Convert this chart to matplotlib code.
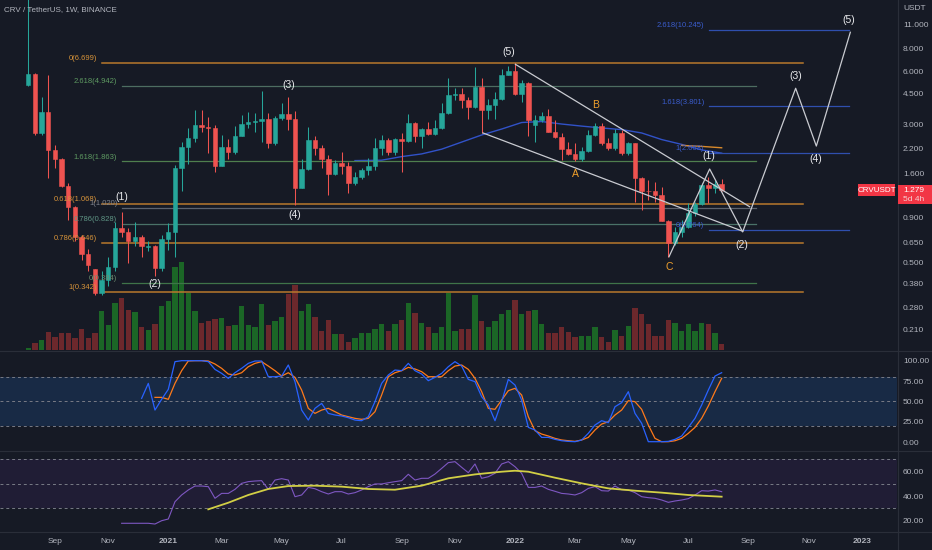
import numpy as np
import pandas as pd
import matplotlib
matplotlib.use('Agg')
import matplotlib.pyplot as plt
import matplotlib.dates as mdates
from matplotlib.ticker import NullLocator
from matplotlib.lines import Line2D
from matplotlib.patches import Rectangle

plt.rcParams['font.family'] = ['Liberation Sans', 'DejaVu Sans']

# ---------------- data (weekly CRV/USDT) ----------------
first_week = '2020-08-10'

opens = [4.99, 5.78, 2.70, 3.54, 2.16, 1.91, 1.35, 1.03, 0.70, 0.56,
         0.459, 0.337, 0.40, 0.471, 0.78, 0.75, 0.66, 0.70, 0.61, 0.62,
         0.47, 0.68, 0.75, 1.70, 2.25, 2.51, 2.98, 2.92, 2.86, 1.75,
         2.25, 2.10, 2.59, 3.02, 3.11, 3.15, 3.22, 2.37, 3.28, 3.44,
         3.23, 1.31, 1.68, 2.45, 2.21, 1.91, 1.59, 1.83, 1.75, 1.41,
         1.53, 1.66, 1.75, 2.22, 2.44, 2.09, 2.48, 2.43, 3.05, 2.57,
         2.83, 2.67, 2.87, 3.50, 4.40, 4.47, 4.10, 3.76, 4.89, 3.62,
         3.86, 4.17, 5.71, 6.03, 4.44, 5.13, 3.00, 3.18, 3.36, 2.74,
         2.55, 2.18, 2.05, 1.91, 2.14, 2.63, 2.94, 2.37, 2.21, 2.69,
         2.07, 2.35, 1.50, 1.27, 1.26, 1.20, 0.864, 0.648, 0.75, 0.80,
         0.95, 1.07, 1.37, 1.31, 1.39]
highs = [40.0, 5.85, 4.31, 5.70, 2.30, 1.95, 1.40, 1.05, 0.72, 0.60,
         0.46, 0.45, 0.54, 0.85, 0.97, 0.79, 0.85, 0.72, 0.66, 0.63,
         0.72, 0.835, 1.78, 2.40, 2.86, 3.62, 3.62, 3.29, 2.98, 2.63,
         2.50, 2.96, 3.39, 3.54, 3.50, 4.65, 3.47, 3.35, 3.95, 4.28,
         3.57, 1.93, 2.92, 2.57, 2.30, 2.01, 1.89, 2.11, 1.85, 1.63,
         1.71, 1.94, 2.51, 2.63, 2.51, 2.53, 2.69, 3.42, 3.11, 2.88,
         3.11, 3.18, 3.95, 5.51, 4.80, 4.83, 4.28, 6.35, 5.46, 4.17,
         4.56, 6.16, 6.38, 6.70, 5.34, 5.20, 3.40, 3.51, 3.65, 3.18,
         2.69, 2.39, 2.35, 2.25, 2.80, 3.05, 3.05, 2.51, 2.83, 2.81,
         2.40, 2.37, 1.52, 1.46, 1.42, 1.33, 0.87, 0.80, 0.87, 1.08,
         1.10, 1.41, 1.53, 1.46, 1.48]
lows = [4.95, 2.62, 2.62, 1.50, 1.71, 1.34, 0.87, 0.66, 0.52, 0.45,
        0.33, 0.33, 0.37, 0.45, 0.70, 0.50, 0.62, 0.54, 0.58, 0.42,
        0.45, 0.59, 0.54, 1.26, 1.81, 2.40, 2.74, 2.07, 1.63, 1.75,
        1.91, 2.05, 2.59, 2.86, 2.74, 2.39, 2.21, 2.30, 3.20, 2.80,
        1.06, 1.31, 1.66, 2.01, 1.71, 1.20, 1.55, 1.59, 1.23, 1.37,
        1.49, 1.55, 1.66, 2.02, 2.02, 2.03, 1.63, 2.39, 2.39, 2.21,
        2.63, 2.63, 2.84, 3.45, 4.12, 3.70, 3.24, 3.72, 2.69, 3.24,
        3.24, 4.12, 5.68, 4.38, 4.03, 2.57, 2.38, 3.11, 2.72, 2.51,
        1.90, 2.02, 1.88, 1.88, 2.11, 2.59, 2.30, 2.16, 2.16, 2.02,
        2.02, 1.10, 0.99, 1.13, 1.10, 0.86, 0.537, 0.63, 0.70, 0.78,
        0.92, 1.06, 1.09, 1.23, 1.27]
closes = [5.78, 2.70, 3.54, 2.16, 1.91, 1.35, 1.03, 0.70, 0.56, 0.486,
          0.337, 0.40, 0.471, 0.78, 0.75, 0.66, 0.70, 0.62, 0.62, 0.47,
          0.68, 0.75, 1.70, 2.25, 2.51, 2.98, 2.92, 2.86, 1.75, 2.25,
          2.10, 2.59, 3.02, 3.11, 3.15, 3.22, 2.37, 3.28, 3.44, 3.23,
          1.31, 1.68, 2.45, 2.21, 1.91, 1.59, 1.83, 1.75, 1.41, 1.53,
          1.66, 1.75, 2.22, 2.44, 2.09, 2.48, 2.43, 3.05, 2.57, 2.83,
          2.67, 2.87, 3.50, 4.40, 4.47, 4.10, 3.76, 4.89, 3.62, 3.86,
          4.17, 5.71, 6.03, 4.44, 5.13, 3.18, 3.18, 3.36, 2.74, 2.55,
          2.18, 2.05, 1.91, 2.14, 2.63, 2.94, 2.37, 2.21, 2.69, 2.07,
          2.35, 1.50, 1.27, 1.26, 1.20, 0.864, 0.648, 0.75, 0.80, 0.95,
          1.07, 1.37, 1.31, 1.39, 1.279]
volumes = [2, 6.7, 10, 17.7, 13.3, 16.7, 16.7, 11.7, 21, 11.7,
           16.7, 38, 25, 46.7, 51.7, 39, 37.7, 22.3, 20, 26,
           43.3, 48.3, 82, 86.7, 55.7, 38.3, 26.7, 29, 30.7, 31.7,
           23.3, 25, 43.3, 25, 22.3, 45.7, 25, 28.3, 32.3, 55,
           64.3, 38.3, 45.7, 32.3, 18.3, 30, 15.7, 15.7, 7.7, 12.3,
           16.7, 16.7, 21, 25.7, 19, 25.7, 30, 46.7, 36.7, 26.7,
           22.3, 16.7, 22.3, 55.7, 19, 21, 21, 54.3, 29, 22.3,
           29, 35, 39, 49, 35, 38.3, 39, 25.7, 16.7, 16.7,
           22.3, 17.7, 13.3, 14, 14, 22.3, 13.3, 8.3, 20, 14,
           24, 41, 35.7, 25.7, 14, 14, 30, 26.7, 19, 25.7,
           18.3, 26.3, 25.7, 16.7, 5.7]

# moving averages on price (bar number, value)
ma50_bars = [50, 54, 57, 60, 63, 66, 69, 72, 75, 78, 81, 84, 87, 90, 93, 96, 99, 102, 105]
ma50_vals = [1.88, 1.89, 1.98, 2.05, 2.18, 2.39, 2.62, 2.83, 3.08, 3.12, 3.02, 2.94,
             2.87, 2.81, 2.69, 2.47, 2.32, 2.16, 2.07]
ma100_bars = [99, 102, 105]
ma100_vals = [2.29, 2.26, 2.22]

# Stoch RSI
stoch_k_start = 18
stoch_k = [53.7, 72.1, 39.3, 52.5, 64.8, 98.8, 100, 100, 100, 100,
           98.8, 89.3, 84.4, 78.3, 85.2, 90.6, 96.7, 99.6, 99.6, 80.3,
           80.3, 81.1, 94.7, 74.2, 39.3, 27.0, 41.4, 47.5, 35.2, 33.2,
           32.0, 29.9, 27.0, 26.2, 31.1, 49.6, 72.1, 82.4, 88.5, 87.7,
           96.7, 87.7, 83.6, 75.4, 79.5, 84.4, 92.6, 98.8, 93.4, 77.0,
           74.2, 55.7, 45.5, 26.2, 49.6, 77.0, 70.1, 51.6, 18.0, 14.8,
           5.7, 5.7, 3.3, 1.6, 0.8, 0.4, 2.5, 10.7, 20.9, 26.2,
           23.8, 43.4, 48.4, 61.9, 35.2, 23.0, 0.4, 0.4, 0.4, 0.8,
           3.3, 7.4, 18.0, 29.1, 45.5, 63.9, 81.1, 85.2]
stoch_d_start = 20
stoch_d = [54.9, 54.9, 52.5, 72.1, 87.7, 99.6, 100, 100, 99.6, 95.9,
           90.6, 83.6, 82.4, 85.2, 92.6, 96.7, 98.8, 93.4, 87.7, 81.1,
           85.2, 79.5, 63.9, 41.4, 35.2, 39.3, 41.4, 37.3, 33.2, 31.1,
           29.1, 27.9, 29.1, 37.3, 57.8, 80.3, 85.2, 87.7, 91.8, 89.8,
           86.5, 80.3, 80.3, 80.3, 87.7, 93.4, 94.7, 89.3, 78.3, 61.9,
           41.4, 40.2, 51.6, 63.1, 66.0, 57.8, 31.1, 13.9, 9.8, 7.4,
           4.5, 2.5, 1.6, 0.8, 2.5, 5.7, 14.8, 22.1, 25.0, 33.2,
           39.3, 50.8, 49.6, 40.2, 20.9, 4.5, 0.4, 0.4, 1.6, 4.5,
           10.7, 18.0, 29.1, 44.3, 61.9, 78.3]

# RSI and its moving average
rsi_start = 15
rsi_vals = [17.9, 17.9, 17.9, 17.9, 17.9, 17.3, 20.0, 21.4, 35.5, 41.0,
            45.1, 48.3, 48.3, 47.8, 38.3, 42.3, 42.3, 45.6, 50.5, 51.9,
            52.4, 52.7, 45.6, 53.2, 54.3, 53.2, 39.6, 41.0, 47.2, 46.1,
            43.7, 41.8, 43.7, 43.7, 41.8, 42.9, 45.1, 47.8, 50.0, 50.0,
            51.0, 51.9, 52.7, 57.9, 53.2, 54.6, 54.6, 58.1, 62.7, 67.4,
            68.2, 63.6, 59.2, 66.3, 54.6, 55.9, 58.7, 66.3, 68.2, 64.1,
            58.7, 47.2, 47.2, 48.3, 45.6, 44.0, 42.3, 41.8, 41.0, 42.9,
            46.4, 47.8, 44.5, 44.2, 48.3, 45.3, 45.1, 42.9, 39.6, 38.8,
            38.3, 36.9, 35.0, 36.1, 36.9, 38.0, 41.0, 44.5, 44.2, 45.1, 43.7]
rsi_ma_bars = [28, 31, 34, 37, 40, 44, 48, 52, 56, 60, 64, 68, 72, 74, 76, 80, 84, 88, 92, 96, 100, 105]
rsi_ma_vals = [29.3, 34.7, 41.0, 45.9, 48.3, 48.6, 47.8, 45.9, 45.3, 48.6, 54.6, 57.8,
               60.0, 60.8, 60.0, 55.1, 50.5, 46.4, 44.5, 42.9, 41.0, 39.6]

# Fibonacci drawings
fib_orange_labels = ['0(6.699)', '0.618(1.068)', '0.786(0.646)', '1(0.342)']
fib_orange_prices = [6.699, 1.068, 0.646, 0.342]
fib_orange_span = [12.0, 117.2]
fib_green_labels = ['2.618(4.942)', '1.618(1.863)', '1(1.020)', '0.786(0.828)', '0(0.384)']
fib_green_prices = [4.942, 1.863, 1.020, 0.828, 0.384]
fib_green_span = [15.05, 110.1]
fib_blue_labels = ['2.618(10.245)', '1.618(3.801)', '1(2.068)', '0(0.764)']
fib_blue_prices = [10.245, 3.801, 2.068, 0.764]
fib_blue_span = [103.1, 124.1]

# trend channel and projected wave path (bar number, price)
channel_upper_bars = [74.06, 109.2]
channel_upper_prices = [6.55, 1.034]
channel_lower_bars = [69.2, 108.15]
channel_lower_prices = [2.69, 0.753]
proj_bars = [97.1, 103.2, 108.15, 116.1, 119.2, 124.3]
proj_prices = [0.541, 1.686, 0.746, 4.80, 2.27, 9.92]

wave_labels = ['(1)', '(2)', '(3)', '(4)', '(5)', '(1)', '(2)', '(3)', '(4)', '(5)']
wave_bars = [15, 20, 40, 41, 73.03, 103, 108.05, 116.05, 119.1, 124.1]
wave_prices = [1.18, 0.378, 5.01, 0.93, 7.67, 2.00, 0.629, 5.65, 1.91, 11.68]
abc_labels = ['A', 'B', 'C']
abc_bars = [83.1, 86.1, 97.1]
abc_prices = [1.59, 3.86, 0.473]

price_ticks = [11, 8, 6, 4.5, 3, 2.2, 1.6, 0.9, 0.65, 0.5, 0.38, 0.28, 0.21]
stoch_ticks = [0, 25, 50, 75, 100]
rsi_ticks = [20, 40, 60]
tick_months = ['2020-09', '2020-11', '2021-01', '2021-03', '2021-05', '2021-07',
               '2021-09', '2021-11', '2022-01', '2022-03', '2022-05', '2022-07',
               '2022-09', '2022-11', '2023-01']
title = 'CRV / TetherUS, 1W, BINANCE'
symbol = 'CRVUSDT'
countdown = '5d 4h'

# ---------------- style ----------------
BG = '#161a25'
SEP = '#2a2e39'
TXT = '#b2b5be'
UP, DOWN = '#26a69a', '#ef5350'
VUP, VDOWN = '#1b6626', '#6c282c'
W, H = 932, 550

x0 = mdates.date2num(pd.Timestamp(first_week))


def wx(n):
    return x0 + (np.asarray(n, dtype=float) - 1) * 7.0


n_bars = len(closes)
xs = wx(np.arange(1, n_bars + 1))
o = np.array(opens); h = np.array(highs); l = np.array(lows); c = np.array(closes)
up = c >= o
ccol = np.where(up, UP, DOWN)
vcol = np.where(up, VUP, VDOWN)
XLIM = (float(wx(-3.245)), float(wx(131.3)))


def rect(a, b, cc, d):
    return [a / W, 1 - d / H, (cc - a) / W, (d - b) / H]


fig = plt.figure(figsize=(W / 100, H / 100), dpi=100, facecolor=BG)

# volume (behind price)
vax = fig.add_axes(rect(0, 0, 897, 350), zorder=0)
vax.set_facecolor(BG)
vax.bar(xs, volumes, width=5.8, color=vcol, linewidth=0)
vax.set_xlim(*XLIM)
vax.set_ylim(0, max(volumes) * 350 / 88)
vax.axis('off')

# price pane
ax = fig.add_axes(rect(0, 0, 897, 350), zorder=1)
ax.set_facecolor('none')
ax.set_yscale('log')
ax.set_xlim(*XLIM)
ax.set_ylim(0.1615, 15.07)
ax.vlines(xs, l, h, colors=ccol, linewidth=0.75, zorder=3)
ax.bar(xs, np.abs(c - o), bottom=np.minimum(o, c), width=4.6, color=ccol,
       edgecolor=ccol, linewidth=0.4, zorder=4)

ax.plot(wx(ma50_bars), ma50_vals, color='#3152c8', lw=1.0, zorder=2)
ax.plot(wx(ma100_bars), ma100_vals, color='#d98a2b', lw=1.0, zorder=2)

# fib drawings
for lab, p in zip(fib_orange_labels, fib_orange_prices):
    ax.plot(wx(fib_orange_span), [p, p], color='#b9792c', lw=1.1, zorder=2)
    ax.text(wx(fib_orange_span[0] - 0.7), p * 1.01, lab, color='#d6933a', fontsize=5.5,
            ha='right', va='bottom', zorder=5)
g_line = ['#4d6d61', '#4f7f4e', '#5d636e', '#4a7268', '#3f7449']
g_text = ['#5e9a62', '#5e9a62', '#80848e', '#5f9585', '#6b8a6e']
for lab, p, lc, tc in zip(fib_green_labels, fib_green_prices, g_line, g_text):
    ax.plot(wx(fib_green_span), [p, p], color=lc, lw=0.9, zorder=2)
    ax.text(wx(fib_green_span[0] - 0.7), p * 1.01, lab, color=tc, fontsize=5.5,
            ha='right', va='bottom', zorder=5)
for lab, p in zip(fib_blue_labels, fib_blue_prices):
    ax.plot(wx(fib_blue_span), [p, p], color='#2f4fae', lw=0.9, zorder=2)
    ax.text(wx(fib_blue_span[0] - 0.7), p * 1.01, lab, color='#3a5ccc', fontsize=5.5,
            ha='right', va='bottom', zorder=5)

WL = '#c9cbd1'
ax.plot(wx(channel_upper_bars), channel_upper_prices, color=WL, lw=0.9, zorder=5)
ax.plot(wx(channel_lower_bars), channel_lower_prices, color=WL, lw=0.9, zorder=5)
ax.plot(wx(proj_bars), proj_prices, color=WL, lw=0.9, zorder=5)

for lab, b, p in zip(wave_labels, wave_bars, wave_prices):
    ax.text(wx(b), p, lab, color='#e8e9ec', fontsize=7.5, ha='center', va='center', zorder=6)
for lab, b, p in zip(abc_labels, abc_bars, abc_prices):
    ax.text(wx(b), p, lab, color='#f0a02c', fontsize=7.5, ha='center', va='center', zorder=6)

# stoch RSI pane
sax = fig.add_axes(rect(0, 351, 897, 450))
sax.set_facecolor(BG)
sax.set_xlim(*XLIM)
sax.set_ylim(-9.8, 111.9)
sax.axhspan(20, 80, color='#182a45', lw=0, zorder=0)
for lv in (80, 50, 20):
    sax.axhline(lv, color='#787b86', lw=0.7, ls=(0, (3, 3)), zorder=1)
sax.plot(wx(np.arange(stoch_k_start, stoch_k_start + len(stoch_k))), stoch_k,
         color='#2962ff', lw=0.9, zorder=3)
sax.plot(wx(np.arange(stoch_d_start, stoch_d_start + len(stoch_d))), stoch_d,
         color='#ff7a1a', lw=0.9, zorder=2)

# RSI pane
rax = fig.add_axes(rect(0, 451, 897, 531))
rax.set_facecolor(BG)
rax.set_xlim(*XLIM)
rax.set_ylim(11.6, 76.9)
rax.axhspan(30, 70, color='#201d35', lw=0, zorder=0)
for lv in (70, 50, 30):
    rax.axhline(lv, color='#787b86', lw=0.7, ls=(0, (3, 3)), zorder=1)
rax.plot(wx(np.arange(rsi_start, rsi_start + len(rsi_vals))), rsi_vals,
         color='#7e57c2', lw=0.8, zorder=2)
rax.plot(wx(rsi_ma_bars), rsi_ma_vals, color='#d2cf45', lw=1.3, zorder=3)

# axes styling
for a in (ax, sax, rax):
    for s in a.spines.values():
        s.set_visible(False)
    a.yaxis.tick_right()
    a.tick_params(axis='y', length=0, pad=4.3, labelsize=6, labelcolor=TXT)
    a.tick_params(axis='x', length=0)
    a.yaxis.set_minor_locator(NullLocator())
    a.xaxis.set_minor_locator(NullLocator())

ax.set_yticks(price_ticks)
ax.set_yticklabels([f'{v:.3f}' for v in price_ticks])
ax.yaxis.set_minor_locator(NullLocator())
sax.set_yticks(stoch_ticks)
sax.set_yticklabels([f'{v:.2f}' for v in stoch_ticks])
rax.set_yticks(rsi_ticks)
rax.set_yticklabels([f'{v:.2f}' for v in rsi_ticks])

tick_pos, tick_lab, tick_year = [], [], []
for m in tick_months:
    d = pd.Timestamp(m + '-01')
    monday = d + pd.Timedelta(days=(7 - d.weekday()) % 7)
    tick_pos.append(mdates.date2num(monday))
    tick_lab.append(str(d.year) if d.month == 1 else d.strftime('%b'))
    tick_year.append(d.month == 1)
for a in (ax, sax):
    a.set_xticks(tick_pos)
    a.set_xticklabels([])
rax.set_xticks(tick_pos)
rax.set_xticklabels(tick_lab)
rax.tick_params(axis='x', labelsize=6, labelcolor=TXT, pad=5)
for t, is_year in zip(rax.get_xticklabels(), tick_year):
    if is_year:
        t.set_fontweight('bold')

# separators
for yy in (350.5, 450.5, 531.5):
    fig.add_artist(Line2D([0, 1], [1 - yy / H] * 2, transform=fig.transFigure, color=SEP, lw=0.8))
fig.add_artist(Line2D([897.5 / W] * 2, [0, 1], transform=fig.transFigure, color=SEP, lw=0.8))

fig.text(4 / W, 1 - 10 / H, title, color=TXT, fontsize=5.8, ha='left', va='center')
fig.text(903 / W, 1 - 9 / H, 'USDT', color=TXT, fontsize=6, ha='left', va='center')

# last price labels
last_price = closes[-1]
yp = ax.transData.transform((XLIM[0], last_price))[1] / H
fig.patches.append(Rectangle((858 / W, yp - 6 / H), 37 / W, 12 / H, transform=fig.transFigure,
                             fc='#f23645', ec='none', zorder=10))
fig.text(876.5 / W, yp, symbol, color='white', fontsize=5.8, ha='center', va='center', zorder=11)
fig.patches.append(Rectangle((897.5 / W, yp - 14 / H), 35 / W, 19.5 / H, transform=fig.transFigure,
                             fc='#f23645', ec='none', zorder=10))
fig.text(903 / W, yp, f'{last_price:.3f}', color='white', fontsize=6, ha='left', va='center', zorder=11)
fig.text(903 / W, yp - 9.5 / H, countdown, color='#f5d0d3', fontsize=6, ha='left', va='center', zorder=11)

fig.savefig('out.png', dpi=100, facecolor=BG)
